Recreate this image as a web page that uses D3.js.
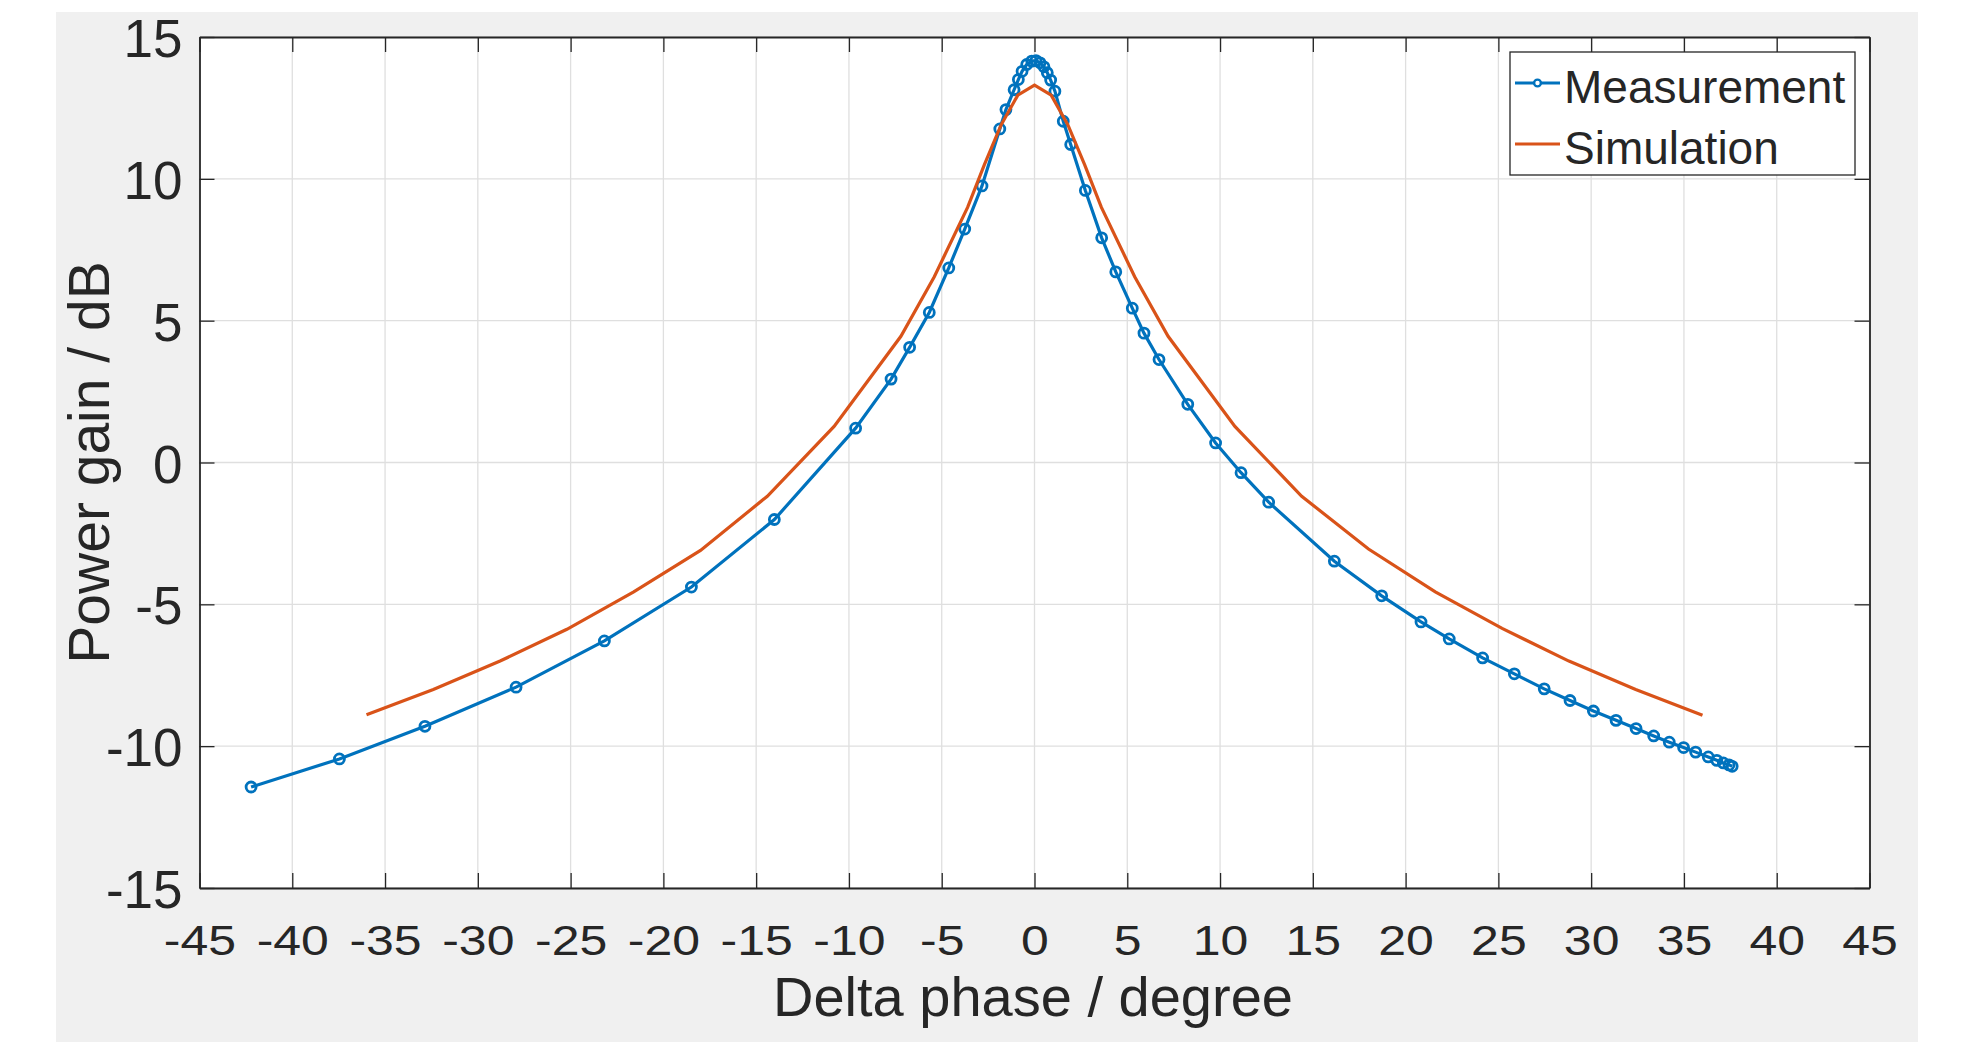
<!DOCTYPE html>
<html>
<head>
<meta charset="utf-8">
<script src="https://cdn.jsdelivr.net/npm/d3@7"></script>
<style>
  body { margin: 0; background: #fff; }
  svg text { font-family: "Liberation Sans", Arial, Helvetica, sans-serif; fill: #262626; }
</style>
</head>
<body>
<div id="chart"></div>
<script>
// measured power gain (blue, circles)
var measPhase = [-42.22, -37.46, -32.85, -27.94, -23.18, -18.49, -14.02, -9.64, -7.73, -6.73,
  -5.67, -4.62, -3.76, -2.83, -1.87, -1.54, -1.10, -0.87, -0.67, -0.42,
  -0.15, 0.08, 0.30, 0.51, 0.69, 0.87, 1.10, 1.55, 1.95, 2.74,
  3.62, 4.38, 5.27, 5.90, 6.71, 8.26, 9.76, 11.13, 12.62, 16.16,
  18.71, 20.83, 22.35, 24.15, 25.86, 27.47, 28.86, 30.12, 31.34, 32.42,
  33.37, 34.21, 34.98, 35.63, 36.31, 36.77, 37.12, 37.43, 37.60];
var measGain = [-11.44, -10.45, -9.30, -7.92, -6.29, -4.39, -2.01, 1.21, 2.94, 4.06,
  5.29, 6.86, 8.23, 9.75, 11.76, 12.44, 13.14, 13.50, 13.79, 14.03,
  14.15, 14.17, 14.09, 13.95, 13.74, 13.48, 13.09, 12.03, 11.21, 9.59,
  7.92, 6.72, 5.44, 4.56, 3.63, 2.05, 0.69, -0.36, -1.40, -3.48,
  -4.70, -5.62, -6.22, -6.89, -7.45, -7.98, -8.39, -8.76, -9.09, -9.38,
  -9.64, -9.86, -10.05, -10.21, -10.38, -10.50, -10.59, -10.66, -10.71];

// simulated power gain (orange line)
var simPhase = [-36, -32.4, -28.8, -25.2, -21.6, -18, -14.4, -10.8, -7.2, -5.4,
  -3.6, -2.7, -1.8, -0.9, 0, 0.9, 1.8, 2.7, 3.6, 5.4,
  7.2, 10.8, 14.4, 18, 21.6, 25.2, 28.8, 32.4, 36];
var simGain = [-8.89, -8.0, -7.0, -5.88, -4.56, -3.1, -1.19, 1.27, 4.45, 6.55,
  9.0, 10.5, 11.9, 12.95, 13.3, 12.95, 11.9, 10.5, 9.0, 6.55,
  4.45, 1.27, -1.19, -3.05, -4.56, -5.85, -7.0, -8.0, -8.91];

var xTicks = [-45, -40, -35, -30, -25, -20, -15, -10, -5, 0, 5, 10, 15, 20, 25, 30, 35, 40, 45];
var yTicks = [-15, -10, -5, 0, 5, 10, 15];
var seriesNames = ["Measurement", "Simulation"];

var blue = "#0072BD", orange = "#D95319";

// set the dimensions and margins of the graph
var margin = {top: 37, right: 113.5, bottom: 154, left: 199.5},
    W = 1983, H = 1042,
    width = W - margin.left - margin.right,
    height = H - margin.top - margin.bottom;

var svg = d3.select("#chart").append("svg")
    .attr("width", W)
    .attr("height", H);

// figure background
svg.append("rect")
    .attr("x", 56).attr("y", 12)
    .attr("width", 1862).attr("height", 1030)
    .attr("fill", "#f0f0f0");

var g = svg.append("g")
    .attr("transform", "translate(" + margin.left + "," + margin.top + ")");

g.append("rect")
    .attr("width", width).attr("height", height)
    .attr("fill", "#fff");

var x = d3.scaleLinear().domain([-45, 45]).range([0, width]);
var y = d3.scaleLinear().domain([-15, 15]).range([height, 0]);

// plain hyphen for negatives, like the original
var fmt = function(d) { return String(d); };

// grid
g.append("g").selectAll("line")
    .data(xTicks).enter().append("line")
    .attr("x1", function(d) { return x(d); }).attr("x2", function(d) { return x(d); })
    .attr("y1", 0).attr("y2", height)
    .attr("stroke", "#dfdfdf").attr("stroke-width", 1.3);
g.append("g").selectAll("line")
    .data(yTicks).enter().append("line")
    .attr("y1", function(d) { return y(d); }).attr("y2", function(d) { return y(d); })
    .attr("x1", 0).attr("x2", width)
    .attr("stroke", "#dfdfdf").attr("stroke-width", 1.3);

// axes, ticks pointing inward on all four sides
function styleAxis(sel) {
  sel.select(".domain").attr("stroke", "#262626").attr("stroke-width", 1.8);
  sel.selectAll(".tick line").attr("stroke", "#262626").attr("stroke-width", 1.3);
}

g.append("g")
    .attr("transform", "translate(0," + height + ")")
    .call(d3.axisBottom(x).tickValues(xTicks).tickFormat(fmt).tickSizeInner(-15).tickSizeOuter(0))
    .call(styleAxis)
    .selectAll("text")
    .attr("font-size", 50).attr("fill", "#262626")
    .attr("y", 0).attr("dy", "0.71em")
    .attr("transform", "translate(0,37) scale(1,0.85)");

g.append("g")
    .call(d3.axisLeft(y).tickValues(yTicks).tickFormat(fmt).tickSizeInner(-15).tickSizeOuter(0).tickPadding(17))
    .call(styleAxis)
    .selectAll("text").attr("font-size", 53).attr("dy", "0.37em").attr("fill", "#262626");

g.append("g")
    .call(d3.axisTop(x).tickValues(xTicks).tickSizeInner(-15).tickSizeOuter(0).tickFormat(""))
    .call(styleAxis);

g.append("g")
    .attr("transform", "translate(" + width + ",0)")
    .call(d3.axisRight(y).tickValues(yTicks).tickSizeInner(-15).tickSizeOuter(0).tickFormat(""))
    .call(styleAxis);

g.selectAll(".domain").attr("fill", "none");

// axis titles
svg.append("text")
    .attr("x", 1033).attr("y", 1016)
    .attr("text-anchor", "middle")
    .attr("font-size", 56)
    .text("Delta phase / degree");

svg.append("text")
    .attr("transform", "translate(109," + (margin.top + height / 2) + ") rotate(-90)")
    .attr("text-anchor", "middle")
    .attr("font-size", 57)
    .text("Power gain / dB");

// lines
var meas = measPhase.map(function(d, i) { return {x: d, y: measGain[i]}; });
var sim = simPhase.map(function(d, i) { return {x: d, y: simGain[i]}; });

var line = d3.line()
    .x(function(d) { return x(d.x); })
    .y(function(d) { return y(d.y); });

g.append("path")
    .datum(meas)
    .attr("d", line)
    .attr("fill", "none").attr("stroke", blue).attr("stroke-width", 3.2);

g.selectAll("circle.meas")
    .data(meas).enter().append("circle")
    .attr("class", "meas")
    .attr("cx", function(d) { return x(d.x); })
    .attr("cy", function(d) { return y(d.y); })
    .attr("r", 5)
    .attr("fill", "none").attr("stroke", blue).attr("stroke-width", 2.8);

g.append("path")
    .datum(sim)
    .attr("d", line)
    .attr("fill", "none").attr("stroke", orange).attr("stroke-width", 3.2);

// legend
var lg = svg.append("g").attr("transform", "translate(1510,52)");
lg.append("rect")
    .attr("width", 345).attr("height", 123)
    .attr("fill", "#fff").attr("stroke", "#262626").attr("stroke-width", 1.3);

var colors = [blue, orange];
seriesNames.forEach(function(name, i) {
  var ly = 31 + i * 61;
  lg.append("line")
      .attr("x1", 5).attr("x2", 50).attr("y1", ly).attr("y2", ly)
      .attr("stroke", colors[i]).attr("stroke-width", 3);
  if (i === 0) {
    lg.append("circle")
        .attr("cx", 27.5).attr("cy", ly).attr("r", 3.4)
        .attr("fill", "#fff").attr("stroke", blue).attr("stroke-width", 2.4);
  }
  lg.append("text")
      .attr("x", 54).attr("y", ly + 20)
      .attr("font-size", 46).attr("fill", "#000")
      .text(name);
});
</script>
</body>
</html>
